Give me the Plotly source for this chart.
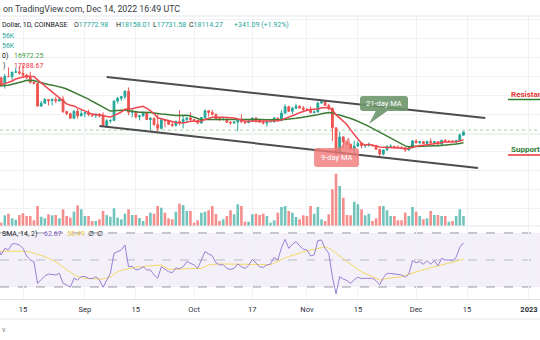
import pandas as pd
import plotly.graph_objects as go

# ---------------- DATA ----------------
dates = pd.date_range("2022-08-08", "2022-12-14", freq="D")

opens_aug = [23170, 23810, 23150, 23950, 23940, 24400, 24440, 24300, 24100, 23850, 23340, 23210,
             20830, 21140, 21520, 21400, 21530, 21370, 21560, 20260, 20040, 19550, 20290, 19800]
highs_aug = [24240, 23930, 24230, 24920, 24450, 24880, 25050, 25200, 24230, 24450, 23590, 23210,
             21370, 21680, 21520, 21660, 21810, 21800, 21870, 20340, 20150, 20400, 20560, 20480]
lows_aug = [23150, 22880, 22680, 23900, 23600, 24310, 24160, 23790, 23690, 23190, 23120, 20800,
            20780, 21060, 20890, 20900, 21140, 21310, 20120, 19850, 19530, 19520, 19530, 19780]
closes_aug = [23810, 23150, 23950, 23940, 24400, 24440, 24300, 24100, 23850, 23340, 23210, 20830,
              21140, 21520, 21400, 21530, 21370, 21560, 20260, 20040, 19550, 20290, 19800, 20050]

opens_sep = [20050, 20130, 19950, 19830, 20000, 19800, 18790, 19290, 19320, 21360, 21650, 21830, 22400, 20180, 20240,
             19700, 19800, 20110, 19420, 19540, 18880, 18490, 19400, 19290, 18920, 18800, 19220, 19080, 19410, 19590]
highs_sep = [20200, 20440, 19970, 20000, 20050, 20180, 19460, 19450, 21440, 21800, 21850, 22490, 22800, 20540, 20340,
             19890, 20180, 20110, 19690, 19630, 19960, 19490, 19500, 19310, 19180, 19310, 20380, 19790, 19640, 20180]
lows_sep = [19650, 19770, 19670, 19600, 19640, 18680, 18540, 19030, 19300, 21110, 21360, 21560, 19880, 19630, 19530,
            19330, 19760, 19370, 18270, 18760, 18150, 18360, 18600, 18840, 18630, 18680, 18820, 18480, 19160, 19200]
closes_sep = [20130, 19950, 19830, 20000, 19800, 18790, 19290, 19320, 21360, 21650, 21830, 22400, 20180, 20240, 19700,
              19800, 20110, 19420, 19540, 18880, 18490, 19400, 19290, 18920, 18800, 19220, 19080, 19410, 19590, 19420]

opens_oct = [19420, 19310, 19060, 19630, 20340, 20160, 19960, 19530, 19420, 19450, 19130, 19060, 19160, 19380, 19180, 19070,
             19270, 19550, 19330, 19130, 19040, 19170, 19210, 19570, 19330, 20090, 20770, 20290, 20600, 20810, 20630]
highs_oct = [19480, 19390, 19690, 20480, 20360, 20450, 20060, 19620, 19560, 19520, 19260, 19220, 19500, 19950, 19230, 19420,
             19680, 19700, 19350, 19340, 19250, 19260, 19700, 19600, 20400, 21020, 20870, 20750, 21080, 20930, 20840]
lows_oct = [19160, 18920, 18960, 19500, 19730, 19860, 19330, 19250, 19320, 19030, 18860, 18960, 18190, 19080, 18980, 19060,
            19160, 19100, 19070, 18900, 18660, 19110, 19080, 19160, 19240, 20060, 20220, 20010, 20560, 20530, 20250]
closes_oct = [19310, 19060, 19630, 20340, 20160, 19960, 19530, 19420, 19450, 19130, 19060, 19160, 19380, 19180, 19070, 19270,
              19550, 19330, 19130, 19040, 19170, 19210, 19570, 19330, 20090, 20770, 20290, 20600, 20810, 20630, 20490]

opens_nov = [20490, 20480, 20150, 20210, 21150, 21300, 20910, 20600, 18540, 15880, 17590, 17040, 16800, 16330, 16620,
             16900, 16660, 16690, 16700, 16690, 16280, 15780, 16200, 16600, 16600, 16520, 16460, 16440, 16220, 16440]
highs_nov = [20640, 20780, 20390, 21290, 21480, 21360, 21070, 20680, 18590, 18150, 17650, 17060, 16880, 17180, 17130,
             16970, 16750, 17000, 16820, 16750, 16290, 16250, 16680, 16800, 16600, 16690, 16600, 16480, 16530, 17250]
lows_nov = [20320, 20060, 20040, 20180, 21080, 20880, 20390, 17170, 15590, 15750, 16380, 16530, 16250, 15830, 16550,
            16380, 16420, 16560, 16550, 16240, 15480, 15640, 16160, 16460, 16360, 16410, 16400, 16000, 16110, 16430]
closes_nov = [20480, 20150, 20210, 21150, 21300, 20910, 20600, 18540, 15880, 17590, 17040, 16800, 16330, 16620, 16900,
              16660, 16690, 16700, 16690, 16280, 15780, 16200, 16600, 16600, 16520, 16460, 16440, 16220, 16440, 17170]

opens_dec = [17170, 16980, 17090, 16890, 17110, 16970, 17090, 16840, 17220, 17130, 17130, 17090, 17210, 17772.98]
highs_dec = [17320, 17100, 17160, 17200, 17430, 17110, 17140, 17300, 17360, 17230, 17270, 17240, 17960, 18158.01]
lows_dec = [16870, 16790, 16870, 16880, 16880, 16910, 16680, 16740, 17100, 17090, 17070, 16870, 17090, 17731.58]
closes_dec = [16980, 17090, 16890, 17110, 16970, 17090, 16840, 17220, 17130, 17130, 17090, 17210, 17772.98, 18114.27]

vol_aug = [24000, 6600, 21400, 24600, 15400, 12600, 22000, 25400, 20000, 20000, 11400, 40000,
           18600, 15400, 23400, 21400, 22000, 15400, 33400, 20000, 16600, 28600, 41400, 33400]
vol_sep = [20000, 20000, 10000, 10000, 13400, 30000, 22000, 18600, 35400, 16600, 13400, 24600, 33400, 22000, 22000,
           16000, 10000, 20000, 26600, 24600, 40000, 36600, 26600, 15400, 13400, 28600, 44600, 42000, 30000, 30000]
vol_oct = [6600, 11400, 26600, 28600, 31400, 40000, 24000, 10000, 13400, 20000, 31400, 23400, 43400, 40000, 8600, 8600,
           23400, 24600, 22000, 24600, 20000, 6600, 11400, 26600, 38000, 40000, 30000, 26600, 18000, 13400, 21400]
vol_nov = [20000, 40000, 24600, 38000, 13400, 10000, 23400, 73400, 104600, 80000, 56600, 22000, 21400, 48600, 43400,
           33400, 21400, 24600, 10000, 15400, 40000, 40000, 31400, 20000, 20000, 11400, 11400, 26600, 20000, 38000]
vol_dec = [28600, 20000, 13400, 15400, 30000, 22000, 22000, 20000, 20000, 8600, 10000, 20000, 33400, 20000]

ma9_aug = [23140, 23120, 23200, 23300, 23480, 23680, 23790, 23920, 23990, 23940, 23950, 23600,
           23290, 22970, 22630, 22320, 22020, 21770, 21420, 21070, 20930, 20840, 20640, 20490]
ma9_sep = [20340, 20180, 19990, 19960, 19930, 19850, 19740, 19680, 19830, 20000, 20210, 20490, 20510, 20560, 20660,
           20720, 20810, 20590, 20360, 20030, 19600, 19510, 19400, 19320, 19210, 19110, 19070, 19050, 19130, 19240]
ma9_oct = [19230, 19200, 19280, 19450, 19560, 19650, 19670, 19650, 19650, 19630, 19630, 19580, 19470, 19360, 19260, 19240,
           19250, 19240, 19240, 19230, 19240, 19220, 19260, 19290, 19380, 19520, 19620, 19790, 19980, 20140, 20290]
ma9_nov = [20390, 20480, 20490, 20530, 20650, 20680, 20660, 20430, 19910, 19590, 19250, 18870, 18330, 17810, 17370,
           16930, 16720, 16810, 16710, 16630, 16520, 16500, 16500, 16470, 16450, 16430, 16400, 16340, 16360, 16520]
ma9_dec = [16600, 16660, 16690, 16760, 16810, 16880, 16950, 17040, 17040, 17050, 17050, 17090, 17160, 17288.67]

ma21_aug = [22980, 22970, 23000, 23040, 23120, 23210, 23300, 23430, 23550, 23570, 23540, 23400,
            23280, 23200, 23110, 23040, 22970, 22920, 22770, 22630, 22460, 22290, 22130, 21950]
ma21_sep = [21770, 21560, 21340, 21130, 20930, 20690, 20490, 20310, 20330, 20360, 20370, 20420, 20350, 20300, 20210,
            20190, 20190, 20190, 20150, 20110, 20030, 20000, 19970, 19920, 19870, 19840, 19850, 19860, 19870, 19780]
ma21_oct = [19670, 19540, 19400, 19410, 19410, 19420, 19410, 19370, 19380, 19360, 19370, 19400, 19400, 19390, 19400, 19420,
            19440, 19450, 19430, 19410, 19400, 19390, 19420, 19400, 19390, 19420, 19430, 19490, 19550, 19610, 19670]
ma21_nov = [19740, 19790, 19830, 19920, 20030, 20110, 20160, 20120, 19960, 19890, 19790, 19680, 19520, 19390, 19240,
            19050, 18880, 18690, 18490, 18290, 18060, 17860, 17690, 17520, 17300, 17070, 16850, 16640, 16540, 16610]
ma21_dec = [16580, 16580, 16580, 16620, 16640, 16650, 16660, 16680, 16700, 16720, 16760, 16830, 16900, 16972.25]

rsi_aug = [60, 53.7, 58.6, 57.4, 61.9, 62, 61, 58.6, 53, 50, 48.8, 32.7,
           35.5, 38.1, 39.6, 39.5, 38.9, 40.1, 32.7, 31.5, 29.8, 36.4, 35.2, 37.6]
rsi_sep = [37.8, 36.4, 36.2, 37.6, 35.2, 29.8, 34.5, 40.1, 55, 56.5, 57.4, 61.1, 45, 45.3, 42.6,
           43.2, 45, 42.6, 42.6, 39, 36.4, 45, 43, 41.3, 40.6, 44, 43.5, 45, 48.8, 47.5]
rsi_oct = [46.3, 43.8, 50, 56.2, 54.5, 53, 48, 46.3, 46.5, 43.8, 43, 43.8, 47, 45, 43.8, 46,
           50.5, 47.5, 45, 44.5, 46.3, 47, 52, 50, 59, 65.3, 58.6, 61.5, 63.6, 60.5, 57.9]
rsi_nov = [57.4, 53, 53.7, 64.3, 64.8, 58.5, 55, 37.6, 24.8, 37.6, 35.8, 34.8, 32.7, 35.5, 37.2,
           36.2, 36.4, 36.5, 36.4, 34.7, 31.5, 37, 40.1, 40, 39.6, 39.2, 38.9, 37.2, 39.5, 49.5]
rsi_dec = [48, 48.8, 46.8, 49.5, 46.8, 49.5, 45.6, 51.2, 50, 50, 49.5, 52, 59.4, 62.67]

rsima_aug = [56.5, 56.5, 56.6, 56.7, 56.7, 56.8, 56.8, 56.7, 56.4, 55.8, 55.0, 54.3,
             53.7, 52.5, 51.2, 50, 48.8, 46.8, 44.7, 42.6, 40.9, 39.2, 37.6, 37.2]
rsima_sep = [36.4, 36.2, 36, 35.8, 35.7, 35.9, 36.5, 37.2, 39.2, 41.3, 42.3, 43, 43.5, 44, 44.6,
             44.9, 45.1, 45.4, 45.6, 45.8, 46.1, 46.3, 44.7, 43.1, 43.1, 43.2, 43.2, 43.3, 43.3, 43.4]
rsima_oct = [43.5, 43.6, 43.8, 45, 46.3, 46.7, 47, 47, 47, 47, 47, 47, 47, 47, 47, 47,
             47, 47, 46.8, 46.6, 46.3, 46.5, 47.5, 49, 50.5, 51.7, 52.5, 53.5, 54.5, 55.4, 56]
rsima_nov = [56.7, 57.4, 58, 58.6, 59.1, 59.4, 58.8, 57, 55, 53, 51, 48.5, 46.3, 44.5, 42.8,
             41.3, 40, 38.9, 37.5, 36.2, 35.2, 35.5, 36.4, 36.6, 36.9, 37.2, 37.6, 38.5, 39.5, 40.4]
rsima_dec = [41.3, 42, 42.8, 43.5, 44.2, 45, 45.6, 46.2, 46.9, 47.5, 48.2, 48.9, 49.7, 50.49]

# channel (trend) lines: dates and prices
upper_dates = ["2022-09-07", "2022-12-20"]
upper_prices = [23900, 19580]
lower_dates = ["2022-09-05", "2022-12-18"]
lower_prices = [18740, 14310]

# horizontal levels
level_dotted = 18300
level_solid = 17900

# time axis ticks
tick_dates = ["2022-08-15", "2022-09-01", "2022-09-15", "2022-10-01", "2022-10-17",
              "2022-11-01", "2022-11-15", "2022-12-01", "2022-12-15", "2023-01-01"]
tick_text = ["15", "Sep", "15", "Oct", "17", "Nov", "15", "Dec", "15", "<b>2023</b>"]

opens = opens_aug + opens_sep + opens_oct + opens_nov + opens_dec
highs = highs_aug + highs_sep + highs_oct + highs_nov + highs_dec
lows = lows_aug + lows_sep + lows_oct + lows_nov + lows_dec
closes = closes_aug + closes_sep + closes_oct + closes_nov + closes_dec
volumes = vol_aug + vol_sep + vol_oct + vol_nov + vol_dec
ma9 = ma9_aug + ma9_sep + ma9_oct + ma9_nov + ma9_dec
ma21 = ma21_aug + ma21_sep + ma21_oct + ma21_nov + ma21_dec
rsi = rsi_aug + rsi_sep + rsi_oct + rsi_nov + rsi_dec
rsi_ma = rsima_aug + rsima_sep + rsima_oct + rsima_nov + rsima_dec

# ---------------- STYLE ----------------
W, H = 540, 340
TEAL = "#26a69a"
RED = "#ef5350"
TEAL_V = "rgba(38,166,154,0.65)"
RED_V = "rgba(239,83,80,0.65)"
MA9_C = "#f0474f"
MA21_C = "#3e7b35"
GRID = "#f0f2f6"
FONT = "Roboto"


def fx(x):
    return x / W


def fy(y):
    return 1 - y / H


fig = go.Figure()

vol_colors = [TEAL_V if c >= o else RED_V for o, c in zip(opens, closes)]
fig.add_trace(go.Bar(x=dates, y=volumes, marker_color=vol_colors, marker_line_width=0,
                     width=0.72 * 86400000, xaxis="x", yaxis="y2", hoverinfo="skip"))

fig.add_trace(go.Candlestick(
    x=dates, open=opens, high=highs, low=lows, close=closes,
    increasing=dict(line=dict(color=TEAL, width=1), fillcolor=TEAL),
    decreasing=dict(line=dict(color=RED, width=1), fillcolor=RED),
    whiskerwidth=0, xaxis="x", yaxis="y"))

fig.add_trace(go.Scatter(x=dates, y=ma21, mode="lines", line=dict(color=MA21_C, width=1.5),
                         xaxis="x", yaxis="y"))
fig.add_trace(go.Scatter(x=dates, y=ma9, mode="lines", line=dict(color=MA9_C, width=1.5),
                         xaxis="x", yaxis="y"))

fig.add_trace(go.Scatter(x=upper_dates, y=upper_prices, mode="lines",
                         line=dict(color="#4d4d4d", width=2), xaxis="x", yaxis="y"))
fig.add_trace(go.Scatter(x=lower_dates, y=lower_prices, mode="lines",
                         line=dict(color="#4d4d4d", width=2), xaxis="x", yaxis="y"))

fig.add_trace(go.Scatter(x=dates, y=rsi_ma, mode="lines", line=dict(color="#f3d865", width=1),
                         xaxis="x2", yaxis="y3"))
fig.add_trace(go.Scatter(x=dates, y=rsi, mode="lines", line=dict(color="#9b7fd4", width=1),
                         xaxis="x2", yaxis="y3"))

x_range = ["2022-08-08 16:20", "2023-01-04 00:45"]

fig.update_layout(
    width=W, height=H, margin=dict(l=0, r=0, t=0, b=0), autosize=False,
    paper_bgcolor="white", plot_bgcolor="white", showlegend=False,
    font=dict(family=FONT, size=7, color="#131722"),
    xaxis=dict(domain=[0, 1], anchor="y", type="date", range=x_range,
               rangeslider=dict(visible=False), tickvals=tick_dates, showticklabels=False,
               showgrid=True, gridcolor=GRID, gridwidth=1, ticks="", zeroline=False, showline=False),
    yaxis=dict(domain=[fy(226), fy(16)], range=[8207, 30320], dtick=2000, tick0=0,
               showgrid=True, gridcolor=GRID, showticklabels=False, zeroline=False, ticks=""),
    yaxis2=dict(domain=[fy(226), fy(16)], overlaying="y", range=[0, 420000], visible=False),
    xaxis2=dict(domain=[0, 1], anchor="y3", type="date", matches="x", range=x_range,
                tickvals=tick_dates, ticktext=tick_text, showgrid=True, gridcolor=GRID,
                showline=True, linecolor="#e0e3eb", linewidth=1, ticks="outside", ticklen=3,
                tickcolor="rgba(0,0,0,0)", tickfont=dict(size=7.5, color="#2a2e39", family=FONT),
                zeroline=False),
    yaxis3=dict(domain=[fy(299), fy(227)], range=[21.1, 74.4], showgrid=False,
                showticklabels=False, zeroline=False, ticks=""),
)

shapes = []
# RSI band and levels
shapes.append(dict(type="rect", xref="paper", yref="y3", x0=0, x1=1, y0=30, y1=70,
                   fillcolor="rgba(126,87,194,0.09)", line=dict(width=0), layer="between"))
for lv, col in [(70, "#9598a1"), (50, "rgba(149,152,161,0.6)"), (30, "#9598a1")]:
    shapes.append(dict(type="line", xref="paper", yref="y3", x0=0, x1=1, y0=lv, y1=lv,
                       line=dict(color=col, width=1, dash="dash"), layer="between"))
# price levels
shapes.append(dict(type="line", xref="paper", yref="y", x0=0, x1=1, y0=level_dotted, y1=level_dotted,
                   line=dict(color="rgba(76,175,80,0.55)", width=1, dash="dot"), layer="between"))
shapes.append(dict(type="line", xref="paper", yref="y", x0=0, x1=1, y0=level_solid, y1=level_solid,
                   line=dict(color="rgba(76,175,80,0.3)", width=1), layer="between"))
# separators
for yy in [16, 226, 319]:
    shapes.append(dict(type="line", xref="paper", yref="paper", x0=0, x1=1, y0=fy(yy), y1=fy(yy),
                       line=dict(color="#e6e8ee", width=1)))


def rrect(x0, y0, x1, y1, r):
    p = [
        f"M{fx(x0 + r)},{fy(y0)}", f"L{fx(x1 - r)},{fy(y0)}", f"Q{fx(x1)},{fy(y0)} {fx(x1)},{fy(y0 + r)}",
        f"L{fx(x1)},{fy(y1 - r)}", f"Q{fx(x1)},{fy(y1)} {fx(x1 - r)},{fy(y1)}",
        f"L{fx(x0 + r)},{fy(y1)}", f"Q{fx(x0)},{fy(y1)} {fx(x0)},{fy(y1 - r)}",
        f"L{fx(x0)},{fy(y0 + r)}", f"Q{fx(x0)},{fy(y0)} {fx(x0 + r)},{fy(y0)}", "Z"]
    return " ".join(p)


def tri(a, b, c):
    return f"M{fx(a[0])},{fy(a[1])} L{fx(b[0])},{fy(b[1])} L{fx(c[0])},{fy(c[1])} Z"


BOX21 = "rgba(110,150,108,0.9)"
BOX9 = "rgba(240,120,120,0.8)"
shapes.append(dict(type="path", xref="paper", yref="paper", path=rrect(360, 96, 408, 111, 3),
                   fillcolor=BOX21, line=dict(width=0), layer="above"))
shapes.append(dict(type="path", xref="paper", yref="paper", path=tri((376, 110.5), (388, 110.5), (369, 124)),
                   fillcolor=BOX21, line=dict(width=0), layer="above"))
shapes.append(dict(type="path", xref="paper", yref="paper", path=rrect(314, 148, 359, 167, 3),
                   fillcolor=BOX9, line=dict(width=0), layer="above"))
shapes.append(dict(type="path", xref="paper", yref="paper", path=tri((339, 148.5), (351, 148.5), (349, 137)),
                   fillcolor=BOX9, line=dict(width=0), layer="above"))
# underlines for Resistance / Support
shapes.append(dict(type="line", xref="paper", yref="paper", x0=fx(508), x1=1, y0=fy(99.5), y1=fy(99.5),
                   line=dict(color="#2e7d32", width=1.5)))
shapes.append(dict(type="line", xref="paper", yref="paper", x0=fx(508), x1=1, y0=fy(155), y1=fy(155),
                   line=dict(color="#e53935", width=1.5)))
fig.update_layout(shapes=shapes)


def txt(x, y, s, color="#131722", size=7, bold=False, anchor="left"):
    if bold:
        s = f"<b>{s}</b>"
    fig.add_annotation(x=fx(x), y=fy(y), xref="paper", yref="paper", text=s, showarrow=False,
                       xanchor=anchor, yanchor="middle", font=dict(family=FONT, size=size, color=color))


txt(1, 8.5, "on TradingView.com, Dec 14, 2022 16:49 UTC", color="#363a45", size=8.8)
txt(0, 25, "Dollar, 1D, COINBASE")
up = TEAL
txt(72, 25, f"O<span style='color:{up}'>17772.98</span>")
txt(114, 25, f"H<span style='color:{up}'>18158.01</span>")
txt(151, 25, f"L<span style='color:{up}'>17731.58</span>")
txt(187, 25, f"C<span style='color:{up}'>18114.27</span>")
txt(232, 25, "+341.09 (+1.92%)", color=up)
txt(0, 36, "56K", color=up)
txt(0, 46, "56K", color=up)
txt(0, 56, "0)")
txt(12, 56, "16972.25", color="#43a047")
txt(1, 66, ")")
txt(12, 66, "17288.67", color="#f23645")

txt(0, 234, "SMA, 14, 2)")
txt(42, 234, "62.67", color="#7e57c2")
txt(65, 234, "50.49", color="#e6c440")
txt(86, 234, "∅", color="#131722")
txt(95, 234, "∅", color="#131722")

txt(384, 103.5, "21-day MA", color="white", size=7.5, anchor="center")
txt(336.5, 157.5, "9-day MA", color="white", size=7.5, anchor="center")
txt(509, 94, "Resistance", color="#e53935", size=8, bold=True)
txt(509, 149, "Support", color="#2e7d32", size=8, bold=True)
txt(0, 330, "v", color="#787b86", size=7)

fig.write_html("out.html")
